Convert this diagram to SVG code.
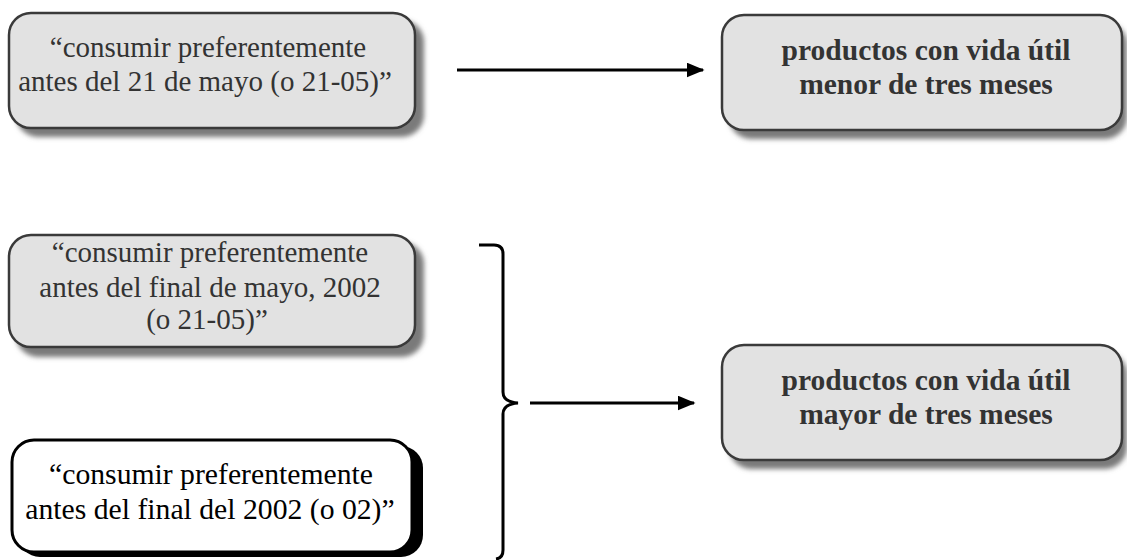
<svg xmlns="http://www.w3.org/2000/svg" width="1127" height="560" viewBox="0 0 1127 560">
<style>
.gray{fill:#e2e2e2;stroke:#3a3a3a;stroke-width:2.5}
.shd{fill:#7a7a7a;filter:url(#blur)}
.white{fill:#fff;stroke:#000;stroke-width:3}
.t{font-family:"Liberation Serif","Times New Roman",serif;font-size:29px;fill:#333;text-anchor:middle}
.b{font-weight:bold;font-size:29.5px}
.k{fill:#000;font-size:29.7px}
.con{fill:none;stroke:#000;stroke-width:3}
</style>
<defs>
<filter id="blur" x="-10%" y="-10%" width="120%" height="130%"><feGaussianBlur stdDeviation="2.5"/></filter>
<marker id="ah" viewBox="0 0 12 10" refX="11" refY="5" markerWidth="6" markerHeight="5" markerUnits="strokeWidth" orient="auto"><path d="M0,0 L12,5 L0,10 z" fill="#000"/></marker>
</defs>
<rect width="1127" height="560" fill="#fff"/>
<g id="n1">
<rect class="shd" x="16" y="20" width="408" height="117" rx="22"/>
<rect class="gray" x="9" y="13" width="406" height="115" rx="22"/>
<text class="t" x="208" y="57">“consumir preferentemente</text>
<text class="t" x="205" y="91">antes del 21 de mayo (o 21-05)”</text>
</g>
<g id="n2">
<rect class="shd" x="729" y="22" width="398" height="117" rx="22"/>
<rect class="gray" x="722" y="15" width="400" height="115" rx="22"/>
<text class="t b" x="926" y="60">productos con vida útil</text>
<text class="t b" x="926" y="94">menor de tres meses</text>
</g>
<g id="n3">
<rect class="shd" x="16" y="242" width="408" height="115" rx="22"/>
<rect class="gray" x="9" y="235" width="406" height="112" rx="22"/>
<text class="t" x="210" y="262">“consumir preferentemente</text>
<text class="t" x="210" y="297">antes del final de mayo, 2002</text>
<text class="t" x="207" y="329">(o 21-05)”</text>
</g>
<g id="n4">
<rect x="18" y="446" width="405" height="111" rx="22" fill="#000"/>
<rect class="white" x="12" y="440" width="400" height="112" rx="22"/>
<text class="t k" x="211" y="484">“consumir preferentemente</text>
<text class="t k" x="210" y="519">antes del final del 2002 (o 02)”</text>
</g>
<g id="n5">
<rect class="shd" x="729" y="352" width="398" height="117" rx="22"/>
<rect class="gray" x="722" y="345" width="400" height="115" rx="22"/>
<text class="t b" x="926" y="390">productos con vida útil</text>
<text class="t b" x="926" y="424">mayor de tres meses</text>
</g>
<g id="connectors">
<line class="con" x1="457" y1="70" x2="703" y2="70" marker-end="url(#ah)"/>
<path class="con" d="M479,245 L494,245 Q503,245 503,254 L503,392 Q503,402 518,403 Q503,404 503,414 L503,550 Q503,558 496,559"/>
<line class="con" x1="530" y1="403" x2="694" y2="403" marker-end="url(#ah)"/>
</g>
</svg>
